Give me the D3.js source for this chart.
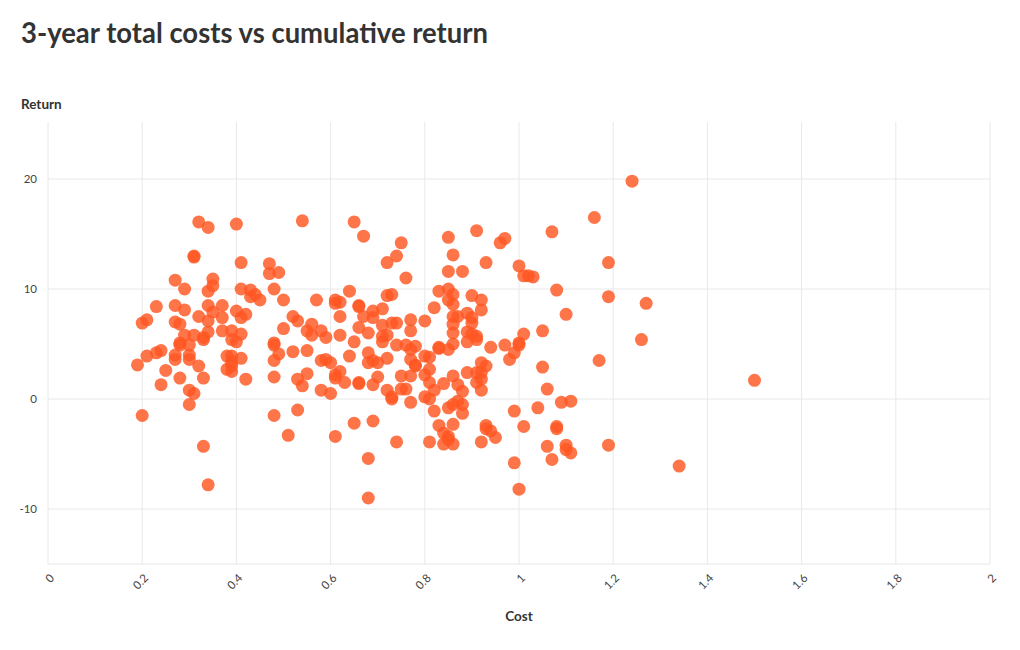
<!DOCTYPE html>
<html><head><meta charset="utf-8">
<script src="https://cdn.jsdelivr.net/npm/d3@7"></script>
<style>
body{margin:0;background:#fff;}
text{font-family:Lato,"Open Sans",sans-serif;}
</style></head>
<body><svg id="chart" width="1020" height="650"></svg>
<script>
const title = "3-year total costs vs cumulative return";
const xLabel = "Cost";
const yLabel = "Return";
const xTicks = [0,0.2,0.4,0.6,0.8,1,1.2,1.4,1.6,1.8,2];
const yTicks = [-10,0,10,20];
const cost = [
0.19,0.20,0.21,0.20,0.21,0.23,0.24,0.23,0.24,0.25,
0.27,0.29,0.27,0.29,0.27,0.28,0.32,0.31,0.31,0.34,0.35,0.35,0.34,0.34,0.32,0.35,0.34,0.29,0.31,0.33,0.34,0.28,0.27,0.27,0.28,0.30,0.30,0.30,0.28,0.32,0.33,0.30,0.31,0.30,0.33,0.34,0.33,
0.40,0.41,0.37,0.37,0.37,0.39,0.41,0.40,0.42,0.41,0.41,0.43,0.43,0.39,0.40,0.38,0.39,0.39,0.39,0.38,0.39,0.41,0.42,0.45,0.44,
0.54,0.47,0.47,0.49,0.48,0.50,0.52,0.53,0.50,0.55,0.56,0.56,0.48,0.48,0.49,0.48,0.52,0.55,0.48,0.53,0.54,0.55,0.48,0.53,0.51,
0.57,0.64,0.61,0.61,0.62,0.66,0.66,0.62,0.58,0.59,0.62,0.65,0.58,0.59,0.60,0.64,0.58,0.60,0.61,0.62,0.61,0.63,0.61,0.65,0.65,
0.67,0.72,0.69,0.71,0.72,0.73,0.67,0.69,0.71,0.66,0.68,0.71,0.72,0.71,0.68,0.68,0.69,0.70,0.72,0.66,0.66,0.69,0.70,0.72,0.73,0.69,0.68,0.68,0.75,0.74,0.73,0.74,0.74,0.75,0.73,0.75,0.74,
0.76,0.83,0.85,0.85,0.82,0.77,0.80,0.77,0.76,0.78,0.77,0.77,0.78,0.78,0.80,0.81,0.83,0.83,0.85,0.77,0.76,0.77,0.80,0.81,0.81,0.82,0.80,0.81,0.84,0.85,0.82,0.83,0.84,0.85,0.85,0.84,0.81,0.85,0.85,
0.91,0.86,0.88,0.93,0.86,0.86,0.90,0.92,0.92,0.86,0.87,0.89,0.90,0.90,0.86,0.86,0.89,0.91,0.90,0.86,0.89,0.91,0.94,0.86,0.87,0.88,0.87,0.88,0.86,0.88,0.86,0.86,0.89,0.91,0.92,0.93,0.92,0.92,0.92,0.91,0.93,0.93,0.94,0.95,0.92,
0.96,0.97,1.00,0.97,0.99,0.98,0.99,0.99,1.00,1.01,1.02,1.03,1.08,1.10,1.01,1.05,1.00,1.00,1.05,1.06,1.09,1.11,1.04,1.01,1.08,1.08,1.06,1.10,1.10,1.11,1.07,1.07,
1.24,1.16,1.19,1.19,1.27,1.26,1.17,1.19,1.50,1.34
];
const ret = [
3.1,6.9,7.2,-1.5,3.9,4.2,4.4,8.4,1.3,2.6,
10.8,10.0,8.5,8.1,7.0,6.8,16.1,12.9,13.0,15.6,10.9,10.3,9.8,8.5,7.5,7.9,7.1,5.8,5.8,5.6,6.1,5.1,4.0,3.6,4.9,4.0,4.9,3.6,1.9,3.0,1.9,0.8,0.5,-0.5,-4.3,-7.8,5.4,
15.9,12.4,8.5,7.4,6.2,6.2,5.9,8.0,7.7,7.4,10.0,9.9,9.3,5.4,5.2,3.9,3.9,3.4,3.0,2.7,2.5,3.7,1.8,9.0,9.5,
16.2,12.3,11.4,11.5,10.0,9.0,7.5,7.1,6.4,6.2,5.8,6.8,5.1,4.9,4.1,3.5,4.3,4.4,2.0,1.8,1.2,2.3,-1.5,-1.0,-3.3,
9.0,9.8,9.0,8.7,8.8,8.5,8.4,7.5,6.2,5.6,5.8,5.2,3.5,3.6,3.3,3.9,0.8,0.5,2.2,2.5,1.9,1.5,-3.4,-2.2,16.1,
14.8,12.4,8.0,8.2,9.4,9.5,7.5,7.4,6.7,6.5,6.0,5.7,5.8,5.2,4.2,3.3,3.5,3.3,3.7,1.5,1.4,1.3,2.0,0.8,0.2,-2.0,-5.4,-9.0,14.2,13.0,6.9,6.9,4.9,2.1,0.0,0.9,-3.9,
11.0,9.8,10.0,9.0,8.3,7.2,7.1,6.2,4.9,4.8,4.5,3.6,3.1,3.0,3.9,3.8,4.6,4.7,4.5,2.1,0.9,-0.3,2.2,2.7,1.5,0.8,0.2,0.0,1.4,-0.8,-1.1,-2.4,-3.1,-3.4,-3.7,-4.1,-3.9,14.7,11.6,
15.3,13.1,11.6,12.4,9.5,8.6,9.4,9.0,8.1,7.5,7.5,7.8,7.4,6.9,6.8,6.0,6.1,5.7,5.9,5.0,5.2,5.4,4.7,2.1,1.3,0.7,-0.2,-0.5,-0.5,-1.3,-2.3,-4.1,2.4,2.4,3.3,3.0,2.4,1.8,0.8,1.5,-2.4,-2.7,-2.9,-3.5,-3.9,
14.2,14.6,12.1,4.9,4.2,3.6,-1.1,-5.8,-8.2,11.2,11.2,11.1,9.9,7.7,5.9,6.2,5.1,4.9,2.9,0.9,-0.3,-0.2,-0.8,-2.5,-2.5,-2.7,-4.3,-4.2,-4.6,-4.9,-5.5,15.2,
19.8,16.5,12.4,9.3,8.7,5.4,3.5,-4.2,1.7,-6.1
];

const svg = d3.select("#chart");
const x = d3.scaleLinear().domain([0,2]).range([48,990]);
const y = d3.scaleLinear().domain([-15,25]).range([564,124]);

// grid
const g = svg.append("g");
g.selectAll(".vg").data(xTicks).join("line")
  .attr("x1",d=>x(d)).attr("x2",d=>x(d)).attr("y1",122).attr("y2",y(-15))
  .attr("stroke","#e8e8e8").attr("stroke-width",1);
g.selectAll(".hg").data([-15].concat(yTicks)).join("line")
  .attr("x1",x(0)).attr("x2",x(2)).attr("y1",d=>y(d)).attr("y2",d=>y(d))
  .attr("stroke","#e8e8e8").attr("stroke-width",1);

// y tick labels
svg.append("g").selectAll("text").data(yTicks).join("text")
  .attr("x",37).attr("y",d=>y(d)).attr("dy","0.35em")
  .attr("text-anchor","end").attr("font-size",11.5).attr("fill","#444")
  .text(d=>String(d));

// x tick labels
const fmt = d => String(+d.toFixed(1));
svg.append("g").selectAll("text").data(xTicks).join("text")
  .attr("transform",d=>`translate(${x(d)+4},${576}) rotate(-45)`)
  .attr("text-anchor","end").attr("dy","0.35em").attr("font-size",11.5).attr("fill","#444")
  .text(fmt);

// points
const data = cost.map((c,i)=>({c, r: ret[i]}));
svg.append("g").selectAll("circle").data(data).join("circle")
  .attr("cx",d=>x(d.c)).attr("cy",d=>y(d.r)).attr("r",6.5)
  .attr("fill","#ff5722").attr("fill-opacity",0.82);

// title and labels
const t = svg.append("text").attr("x",21).attr("y",43).attr("font-size",28)
  .attr("font-weight",700).attr("fill","#333").text(title);
const w = t.node().getComputedTextLength();
if (w > 467) t.attr("textLength",467).attr("lengthAdjust","spacingAndGlyphs");
svg.append("text").attr("x",21).attr("y",109).attr("font-size",13.5)
  .attr("font-weight",700).attr("fill","#333").text(yLabel);
svg.append("text").attr("x",519).attr("y",621).attr("text-anchor","middle").attr("font-size",13.5)
  .attr("font-weight",700).attr("fill","#333").text(xLabel);
</script></body></html>
